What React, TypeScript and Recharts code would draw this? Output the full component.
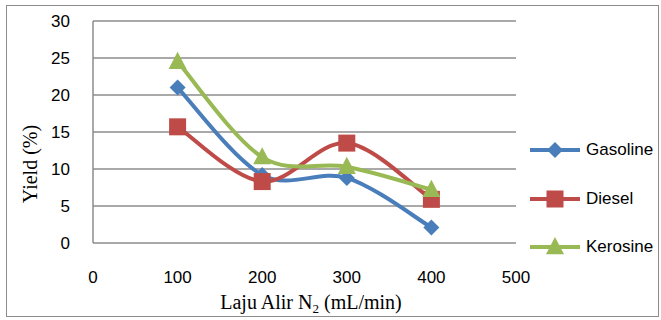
import React from "react";
import { LineChart, Line, XAxis, YAxis, CartesianGrid } from "recharts";

const flowRates = [100, 200, 300, 400];
const gasoline = [21, 9.2, 8.8, 2.1];
const diesel = [15.7, 8.3, 13.5, 5.9];
const kerosine = [24.5, 11.6, 10.3, 7.2];
const xTicks = [0, 100, 200, 300, 400, 500];
const yTicks = [0, 5, 10, 15, 20, 25, 30];

const data = flowRates.map((x, i) => ({
  x,
  gasoline: gasoline[i],
  diesel: diesel[i],
  kerosine: kerosine[i],
}));

const BLUE = "#4A7EBB";
const RED = "#BE4B48";
const GREEN = "#98B954";
const GRID = "#8C8C8C";
const SANS = "'Liberation Sans', Arial, sans-serif";
const SERIF = "'Liberation Serif', 'Times New Roman', serif";

// Excel style smoothing (Catmull-Rom as cubic bezier)
const excelCurve = (context: any) => {
  let pts: number[][] = [];
  return {
    areaStart() {},
    areaEnd() {},
    lineStart() {
      pts = [];
    },
    point(x: number, y: number) {
      pts.push([+x, +y]);
    },
    lineEnd() {
      if (!pts.length) return;
      context.moveTo(pts[0][0], pts[0][1]);
      for (let i = 0; i < pts.length - 1; i++) {
        const p0 = pts[i - 1] || pts[i];
        const p1 = pts[i];
        const p2 = pts[i + 1];
        const p3 = pts[i + 2] || p2;
        context.bezierCurveTo(
          p1[0] + (p2[0] - p0[0]) / 6,
          p1[1] + (p2[1] - p0[1]) / 6,
          p2[0] - (p3[0] - p1[0]) / 6,
          p2[1] - (p3[1] - p1[1]) / 6,
          p2[0],
          p2[1]
        );
      }
    },
  };
};

const marker = (shape: string, color: string, cx: number, cy: number, key?: any) => {
  if (shape === "diamond") {
    const r = 8;
    return (
      <path key={key} d={`M${cx},${cy - r}L${cx + r},${cy}L${cx},${cy + r}L${cx - r},${cy}Z`} fill={color} />
    );
  }
  if (shape === "square") {
    const r = 8.5;
    return <rect key={key} x={cx - r} y={cy - r} width={2 * r} height={2 * r} fill={color} />;
  }
  const r = 9;
  return (
    <path key={key} d={`M${cx},${cy - r - 1}L${cx + r},${cy + r * 0.8}L${cx - r},${cy + r * 0.8}Z`} fill={color} />
  );
};

const dotFor = (shape: string, color: string) => (props: any) =>
  marker(shape, color, props.cx, props.cy, props.index);

const series = [
  { key: "gasoline", name: "Gasoline", color: BLUE, shape: "diamond" },
  { key: "diesel", name: "Diesel", color: RED, shape: "square" },
  { key: "kerosine", name: "Kerosine", color: GREEN, shape: "triangle" },
];

const LegendBox = () => (
  <div style={{ position: "absolute", left: 530, top: 126 }}>
    {series.map((s) => (
      <div key={s.key} style={{ display: "flex", alignItems: "center", height: 48.5 }}>
        <svg width={56} height={20}>
          <line x1={0} y1={10} x2={50} y2={10} stroke={s.color} strokeWidth={4} />
          {marker(s.shape, s.color, 25, 10)}
        </svg>
        <span style={{ fontFamily: SANS, fontSize: 17, color: "#000" }}>{s.name}</span>
      </div>
    ))}
  </div>
);

export default function App() {
  return (
    <div style={{ position: "relative", width: 661, height: 320, background: "#fff" }}>
      <style>{`body{margin:0}`}</style>
      <div
        style={{
          position: "absolute",
          left: 6,
          top: 5,
          width: 653,
          height: 312,
          border: "1px solid #8C8C8C",
          boxSizing: "border-box",
        }}
      />
      <LineChart width={661} height={320} data={data} margin={{ top: 21, right: 145, left: 0, bottom: 0 }}>
        <CartesianGrid vertical={false} stroke={GRID} strokeWidth={1.5} />
        <XAxis
          dataKey="x"
          type="number"
          domain={[0, 500]}
          ticks={xTicks}
          axisLine={false}
          tickLine={false}
          tickMargin={22}
          height={77}
          tick={{ fontFamily: SANS, fontSize: 17, fill: "#000" }}
          label={{
            content: () => (
              <text x={311} y={309} textAnchor="middle" fontFamily={SERIF} fontSize={20} fill="#000">
                Laju Alir N
                <tspan fontSize={13} dy={4}>
                  2
                </tspan>
                <tspan dy={-4}> (mL/min)</tspan>
              </text>
            ),
          }}
        />
        <YAxis
          type="number"
          domain={[0, 30]}
          ticks={yTicks}
          width={93}
          axisLine={{ stroke: GRID, strokeWidth: 1.5 }}
          tickLine={false}
          tickMargin={17}
          tick={{ fontFamily: SANS, fontSize: 17, fill: "#000" }}
          label={{
            content: () => (
              <text
                x={30}
                y={164}
                transform="rotate(-90 30 164)"
                textAnchor="middle"
                dominantBaseline="central"
                fontFamily={SERIF}
                fontSize={20}
                fill="#000"
              >
                Yield (%)
              </text>
            ),
          }}
        />
        {series.map((s) => (
          <Line
            key={s.key}
            dataKey={s.key}
            name={s.name}
            type={excelCurve as any}
            stroke={s.color}
            strokeWidth={4}
            dot={dotFor(s.shape, s.color)}
            activeDot={false}
            isAnimationActive={false}
          />
        ))}
      </LineChart>
      <LegendBox />
    </div>
  );
}
